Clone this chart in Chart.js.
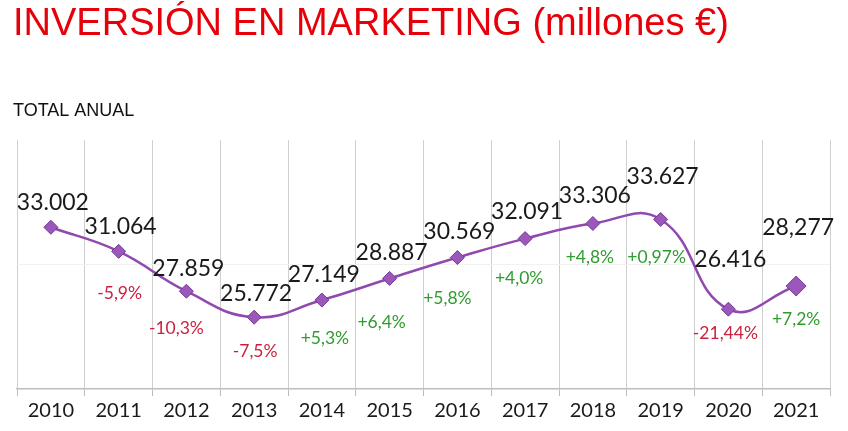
<!DOCTYPE html>
<html>
<head>
<meta charset="utf-8">
<script src="https://cdn.jsdelivr.net/npm/chart.js@4.4.0/dist/chart.umd.min.js"></script>
<style>
    html, body { margin: 0; padding: 0; background: #fff; }
    #wrap { width: 848px; height: 431px; }
</style>
</head>
<body>
<div id="wrap"><canvas id="marketingChart"></canvas></div>
<script>
const years = ['2010', '2011', '2012', '2013', '2014', '2015', '2016', '2017', '2018', '2019', '2020', '2021'];
const investment = [33002, 31064, 27859, 25772, 27149, 28887, 30569, 32091, 33306, 33627, 26416, 28277];
const valueLabels = ['33.002', '31.064', '27.859', '25.772', '27.149', '28.887', '30.569', '32.091', '33.306', '33.627', '26.416', '28,277'];
const changeLabels = ['', '-5,9%', '-10,3%', '-7,5%', '+5,3%', '+6,4%', '+5,8%', '+4,0%', '+4,8%', '+0,97%', '-21,44%', '+7,2%'];

// label placement around each point (pixels)
const valueLift = [25, 25, 23, 24, 25, 26, 26, 27, 28, 43, 50, 58];
const changeDrop = [0, 42, 37, 34, 38, 44, 41, 40, 34, 38, 24, 33];
const changeShift = [0, 1, -10, 1, 3, -8, -10, -6, -3, -4, -3, 0];

const pointLabels = {
    id: 'pointLabels',
    afterDatasetsDraw(chart) {
        const c = chart.ctx;
        const meta = chart.getDatasetMeta(0);
        c.save();
        c.textAlign = 'center';
        c.textBaseline = 'middle';
        meta.data.forEach((pt, i) => {
            c.font = '23px Lato';
            c.fillStyle = '#1a1a1a';
            c.fillText(valueLabels[i], pt.x + 2, pt.y - valueLift[i]);
            if (changeLabels[i]) {
                c.font = '17.5px Lato';
                c.fillStyle = changeLabels[i].startsWith('-') ? '#cc1f3f' : '#2e9c2e';
                c.fillText(changeLabels[i], pt.x + changeShift[i], pt.y + changeDrop[i]);
            }
        });
        c.restore();
    }
};

const ctx = document.getElementById('marketingChart').getContext('2d');

const chart = new Chart(ctx, {
    type: 'line',
    data: {
        labels: years,
        datasets: [{
            label: 'Inversión',
            data: investment,
            borderColor: '#9049ae',
            borderWidth: 2.5,
            tension: 0.45,
            pointStyle: 'rectRot',
            pointRadius: investment.map((v, i) => i === investment.length - 1 ? 10 : 7),
            pointBackgroundColor: '#9b58ba',
            pointBorderColor: '#733893',
            pointBorderWidth: 1
        }]
    },
    options: {
        responsive: true,
        maintainAspectRatio: false,
        animation: false,
        layout: {
            padding: { left: 13, right: 18, top: 0, bottom: 5 }
        },
        plugins: {
            legend: { display: false },
            tooltip: { enabled: false },
            title: {
                display: true,
                text: 'INVERSIÓN EN MARKETING (millones €)',
                align: 'start',
                color: '#e5000a',
                font: { family: 'Liberation Sans', size: 38, weight: 'normal', lineHeight: 1.2 },
                padding: { top: 2, bottom: 53 }
            },
            subtitle: {
                display: true,
                text: 'TOTAL ANUAL',
                align: 'start',
                color: '#111',
                font: { family: 'Liberation Sans', size: 18, weight: 'normal', lineHeight: 1.2 },
                padding: { top: 0, bottom: 18 }
            }
        },
        scales: {
            x: {
                offset: true,
                grid: {
                    offset: true,
                    color: '#cfcfcf',
                    borderDash: [2, 2],
                    tickLength: 7,
                    tickColor: '#bdbdbd'
                },
                border: { display: true, color: '#bdbdbd', width: 1.5 },
                ticks: {
                    color: '#1a1a1a',
                    font: { family: 'Lato', size: 20 },
                    padding: 3
                }
            },
            y: {
                min: 20000,
                max: 40000,
                afterFit: (axis) => { axis.width = 4; },
                border: { display: false },
                ticks: { display: false, stepSize: 10000 },
                grid: {
                    drawTicks: false,
                    color: (c) => c.tick && c.tick.value === 30000 ? '#f1f1f1' : 'rgba(0,0,0,0)'
                }
            }
        }
    },
    plugins: [pointLabels]
});
</script>
</body>
</html>
